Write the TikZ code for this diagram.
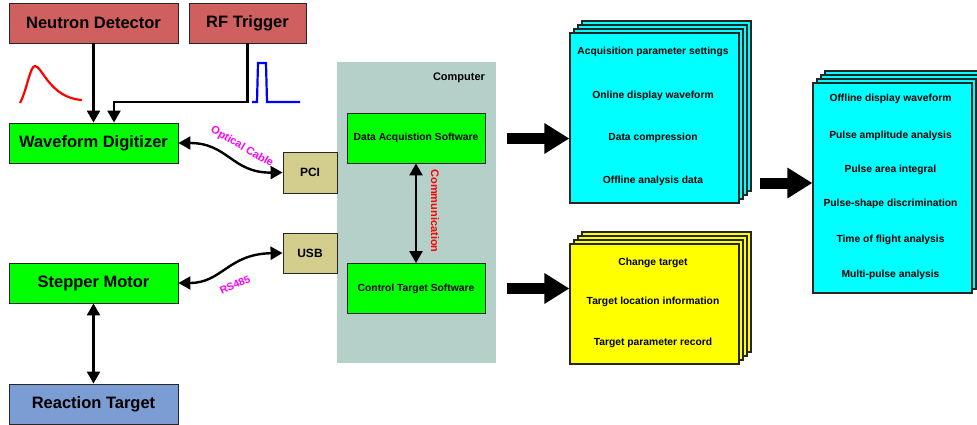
\documentclass[tikz,border=0pt]{standalone}
\usepackage{fontspec}
\setmainfont{Liberation Sans}
\usetikzlibrary{arrows.meta,calc}
\definecolor{rbox}{RGB}{208,96,96}
\definecolor{lgreen}{RGB}{0,255,0}
\definecolor{tanbox}{RGB}{212,206,142}
\definecolor{panel}{RGB}{180,208,200}
\definecolor{rtblue}{RGB}{124,156,212}
\definecolor{mag}{RGB}{255,0,255}
\definecolor{cyanbox}{RGB}{0,255,255}
\definecolor{yelbox}{RGB}{255,255,0}
\begin{document}
\begin{tikzpicture}[x=1pt,y=-1pt,
  box/.style={draw=black!85, line width=0.9pt, inner sep=0pt, font=\bfseries\fontsize{16.5}{19}\selectfont},
  smallbox/.style={box, font=\bfseries\fontsize{12}{14}\selectfont},
  swbox/.style={box, fill=lgreen, font=\bfseries\fontsize{10.3}{12}\selectfont},
  stackc/.style={draw=black!85, line width=1.2pt, inner sep=0pt},
  itemtxt/.style={font=\bfseries\fontsize{10.3}{12}\selectfont, inner sep=0pt},
  conn/.style={line width=2.4pt, -{Triangle[length=12pt,width=13pt]}},
  dconn/.style={line width=2.4pt, {Triangle[length=12pt,width=13pt]}-{Triangle[length=12pt,width=13pt]}},
  bigarrow/.style={line width=11pt, -{Triangle[length=25pt,width=29pt]}},
  lab/.style={font=\bfseries\fontsize{11}{13}\selectfont, inner sep=0pt},
]
\useasboundingbox (0,0) rectangle (977,425);
\fill[white] (0,0) rectangle (977,425);

% computer panel
\node[fill=panel, minimum width=159pt, minimum height=301pt, inner sep=0pt] (comp) at (416.5,212.5) {};
\node[lab] (comptxt) at (459,78) {Computer};

% left boxes
\node[box, fill=rbox, minimum width=169pt, minimum height=40pt] (nd) at (93.5,23) {Neutron Detector};
\node[box, fill=rbox, minimum width=117pt, minimum height=40pt] (rf) at (247.5,23) {RF Trigger};
\node[box, fill=lgreen, minimum width=169pt, minimum height=40pt] (wd) at (93.5,143) {Waveform Digitizer};
\node[box, fill=lgreen, minimum width=169pt, minimum height=40pt] (sm) at (93.5,283) {Stepper Motor};
\node[box, fill=rtblue, minimum width=169pt, minimum height=40pt] (rt) at (93.5,404) {Reaction Target};
\node[smallbox, fill=tanbox, minimum width=54pt, minimum height=41pt] (pci) at (310,172.5) {PCI};
\node[smallbox, fill=tanbox, minimum width=54pt, minimum height=40pt] (usb) at (310,253) {USB};

% software boxes
\node[swbox, minimum width=138pt, minimum height=50pt] (das) at (416,138) {Data Acquistion Software};
\node[swbox, minimum width=138pt, minimum height=50pt] (cts) at (416,288.5) {Control Target Software};

% pulses
\draw[red, line width=2.2pt, line join=round] (20,103) .. controls (27,90) and (30,66) .. (35,66) .. controls (42,66) and (50,98) .. (82,100);
\draw[blue, line width=2.2pt] (252,102) -- (257,102) -- (258,63) -- (266,63) -- (267,102) -- (300,102);

% connectors
\draw[conn] (nd.south) -- (wd.north);
\coordinate (rfb) at (114,102);
\draw[conn] (rf.south) |- (rfb) -- (rfb |- wd.north);
\draw[dconn] (wd.east) .. controls (228,143) and (232,173) .. (pci.west);
\node[lab, text=mag, rotate=-30] (optl) at (242,147) {Optical Cable};
\draw[dconn] (sm.east) .. controls (222,283) and (228,254) .. (usb.west);
\node[lab, text=mag, rotate=24, font=\bfseries\fontsize{10.5}{12}\selectfont] (rsl) at (235,285) {RS485};
\draw[dconn] (sm.south) -- (rt.north);
\draw[dconn] (das.south) -- (cts.north);
\node[lab, text=red, rotate=-90] (coml) at (435,211) {Communication};

% stack 1 (cyan)
\foreach \d in {12,8,4} \node[stackc, fill=cyanbox, minimum width=169pt, minimum height=170pt] (acqL\d) at (654.5+\d,118-\d) {};
\node[stackc, fill=cyanbox, minimum width=169pt, minimum height=170pt] (acq) at (654.5,118) {};
\node[itemtxt] (a1) at (653,52) {Acquisition parameter settings};
\node[itemtxt] (a2) at (653,96) {Online display waveform};
\node[itemtxt] (a3) at (653,138) {Data compression};
\node[itemtxt] (a4) at (653,181) {Offline analysis data};

% stack 2 (yellow)
\foreach \d in {12,8,4} \node[stackc, fill=yelbox, minimum width=169pt, minimum height=120pt] (tgtL\d) at (654.5+\d,304-\d) {};
\node[stackc, fill=yelbox, minimum width=169pt, minimum height=120pt] (tgt) at (654.5,304) {};
\node[itemtxt] (t1) at (653,263) {Change target};
\node[itemtxt] (t2) at (653,302) {Target location information};
\node[itemtxt] (t3) at (653,343) {Target parameter record};

% stack 3 (cyan)
\foreach \d in {12,8,4} \node[stackc, fill=cyanbox, minimum width=159pt, minimum height=210pt] (offL\d) at (892.5+\d,188-\d) {};
\node[stackc, fill=cyanbox, minimum width=159pt, minimum height=210pt] (off) at (892.5,188) {};
\node[itemtxt] (o1) at (890.5,99) {Offline display waveform};
\node[itemtxt] (o2) at (890.5,136) {Pulse amplitude analysis};
\node[itemtxt] (o3) at (890.5,170) {Pulse area integral};
\node[itemtxt] (o4) at (890.5,204) {Pulse-shape discrimination};
\node[itemtxt] (o5) at (890.5,240) {Time of flight analysis};
\node[itemtxt] (o6) at (890.5,275) {Multi-pulse analysis};

% big arrows
\coordinate (ba1) at (507,138.5);
\draw[bigarrow] (ba1) -- (ba1 -| acq.west);
\coordinate (ba2) at (507,288.5);
\draw[bigarrow] (ba2) -- (ba2 -| tgt.west);
\coordinate (ba3) at (760,183);
\draw[bigarrow] (ba3) -- (ba3 -| off.west);
\end{tikzpicture}
\end{document}
